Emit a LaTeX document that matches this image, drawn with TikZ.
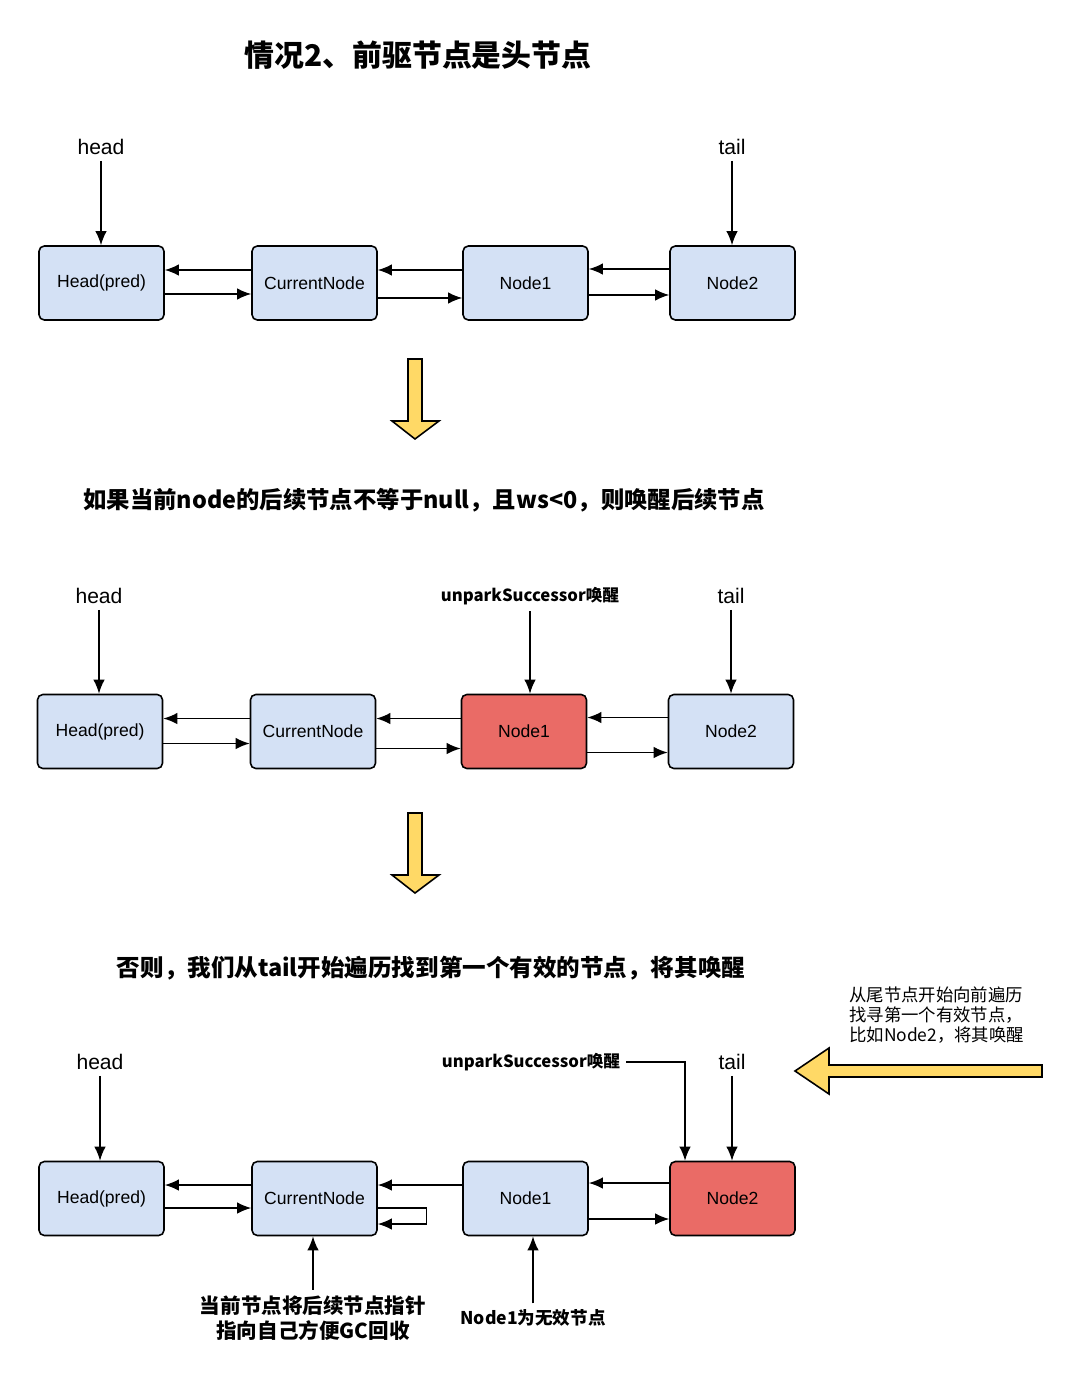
\documentclass[tikz,border=0pt]{standalone}
\usepackage{fontspec}
\usetikzlibrary{arrows.meta}
\setmainfont{Liberation Sans}
\newfontfamily\cjk{Noto Sans CJK SC}
\definecolor{boxblue}{HTML}{D4E1F5}
\definecolor{boxred}{HTML}{EA6B66}
\definecolor{arrowyellow}{HTML}{FFD966}
\tikzset{
  qnode/.style={draw, line width=0.9pt, rounded corners=3pt, fill=boxblue,
    minimum width=2.5cm, minimum height=1.48cm, font=\fontsize{10}{12}\selectfont},
  ptr/.style={font=\fontsize{12}{14}\selectfont},
  tip/.style={font=\cjk\bfseries\fontsize{9.5}{11}\selectfont},
  link/.style={->, line width=0.8pt},
  bigarrow/.style={draw, line width=0.9pt, fill=arrowyellow}
}
\begin{document}
\begin{tikzpicture}[>={Latex[length=8pt,width=6.5pt]}, x=0.02cm, y=-0.02cm]
\useasboundingbox[fill=white] (0,0) rectangle (1080,1378);

\node (title) at (418,55)[font=\cjk\bfseries\fontsize{17}{20}\selectfont]{情况2、前驱节点是头节点};

% first row
\node[qnode] (h1) at (101.5,283){Head(pred)};
\node[qnode] (c1) at (314.5,283){CurrentNode};
\node[qnode] (n11) at (525.5,283){Node1};
\node[qnode] (n21) at (732.5,283){Node2};
\node[ptr] (hd1) at (101,147){head};
\node[ptr] (tl1) at (732,147){tail};
\draw[link] (hd1) -- (hd1 |- h1.north);
\draw[link] (tl1) -- (tl1 |- n21.north);
\draw[link] ([yshift=0.26cm]c1.west) -- ([yshift=0.26cm]h1.east);
\draw[link] ([yshift=-0.22cm]h1.east) -- ([yshift=-0.22cm]c1.west);
\draw[link] ([yshift=0.26cm]n11.west) -- ([yshift=0.26cm]c1.east);
\draw[link] ([yshift=-0.3cm]c1.east) -- ([yshift=-0.3cm]n11.west);
\draw[link] ([yshift=0.28cm]n21.west) -- ([yshift=0.28cm]n11.east);
\draw[link] ([yshift=-0.24cm]n11.east) -- ([yshift=-0.24cm]n21.west);

\draw[bigarrow] (408,359) -- (422,359) -- (422,421) -- (439,421) -- (415,439)
  -- (392,421) -- (408,421) -- cycle;

\node (cond) at (424,500)[font=\cjk\bfseries\fontsize{13.3}{16}\selectfont]{如果当前node的后续节点不等于null，且ws<0，则唤醒后续节点};

% second row
\node[qnode] (h2) at (100,731.5){Head(pred)};
\node[qnode] (c2) at (313,731.5){CurrentNode};
\node[qnode, fill=boxred] (n12) at (524,731.5){Node1};
\node[qnode] (n22) at (731,731.5){Node2};
\node[ptr] (hd2) at (99,596){head};
\node[ptr] (tl2) at (731,596){tail};
\node[tip] (up2) at (530,596){unparkSuccessor唤醒};
\draw[link] (hd2) -- (hd2 |- h2.north);
\draw[link] (tl2) -- (tl2 |- n22.north);
\draw[link] (up2) -- (up2 |- n12.north);
\draw[link] ([yshift=0.26cm]c2.west) -- ([yshift=0.26cm]h2.east);
\draw[link] ([yshift=-0.24cm]h2.east) -- ([yshift=-0.24cm]c2.west);
\draw[link] ([yshift=0.26cm]n12.west) -- ([yshift=0.26cm]c2.east);
\draw[link] ([yshift=-0.34cm]c2.east) -- ([yshift=-0.34cm]n12.west);
\draw[link] ([yshift=0.28cm]n22.west) -- ([yshift=0.28cm]n12.east);
\draw[link] ([yshift=-0.42cm]n12.east) -- ([yshift=-0.42cm]n22.west);

\draw[bigarrow] (408,813) -- (422,813) -- (422,875) -- (439,875) -- (415,893)
  -- (392,875) -- (408,875) -- cycle;

\node (other) at (431,968)[font=\cjk\bfseries\fontsize{13.4}{16}\selectfont]{否则，我们从tail开始遍历找到第一个有效的节点，将其唤醒};

% third row
\node[qnode] (h3) at (101.5,1198.5){Head(pred)};
\node[qnode] (c3) at (314.5,1198.5){CurrentNode};
\node[qnode] (n13) at (525.5,1198.5){Node1};
\node[qnode, fill=boxred] (n23) at (732.5,1198.5){Node2};
\node[ptr] (hd3) at (100,1062){head};
\node[ptr] (tl3) at (732,1062){tail};
\node[tip] (up3) at (531,1062){unparkSuccessor唤醒};
\draw[link] (hd3) -- (hd3 |- h3.north);
\draw[link] (tl3) -- (tl3 |- n23.north);
\draw[link] (up3.east) -| ([xshift=-0.95cm]n23.north);
\draw[link] ([yshift=0.27cm]c3.west) -- ([yshift=0.27cm]h3.east);
\draw[link] ([yshift=-0.19cm]h3.east) -- ([yshift=-0.19cm]c3.west);
\draw[link] ([yshift=0.27cm]n13.west) -- ([yshift=0.27cm]c3.east);
\draw[link] ([yshift=-0.19cm]c3.east) -- ++(49,0) |- ([yshift=-0.51cm]c3.east);
\draw[link] ([yshift=0.31cm]n23.west) -- ([yshift=0.31cm]n13.east);
\draw[link] ([yshift=-0.41cm]n13.east) -- ([yshift=-0.41cm]n23.west);

\node (gc) at (313,1318)[align=center, font=\cjk\bfseries\fontsize{11.7}{14}\selectfont]{当前节点将后续节点指针\\指向自己方便GC回收};
\node[tip] (bad) at (533,1318)[font=\cjk\bfseries\fontsize{10}{12}\selectfont]{Node1为无效节点};
\draw[link] (gc) -- (gc |- c3.south);
\draw[link] (bad) -- (bad |- n13.south);

\node (note) at (843,1015)[right, align=left, font=\cjk\fontsize{9.9}{11.4}\selectfont]{从尾节点开始向前遍历\\找寻第一个有效节点，\\比如Node2，将其唤醒};
\draw[bigarrow] (1042,1065) -- (1042,1077) -- (829,1077) -- (829,1094) -- (795,1071)
  -- (829,1048) -- (829,1065) -- cycle;

\end{tikzpicture}
\end{document}
